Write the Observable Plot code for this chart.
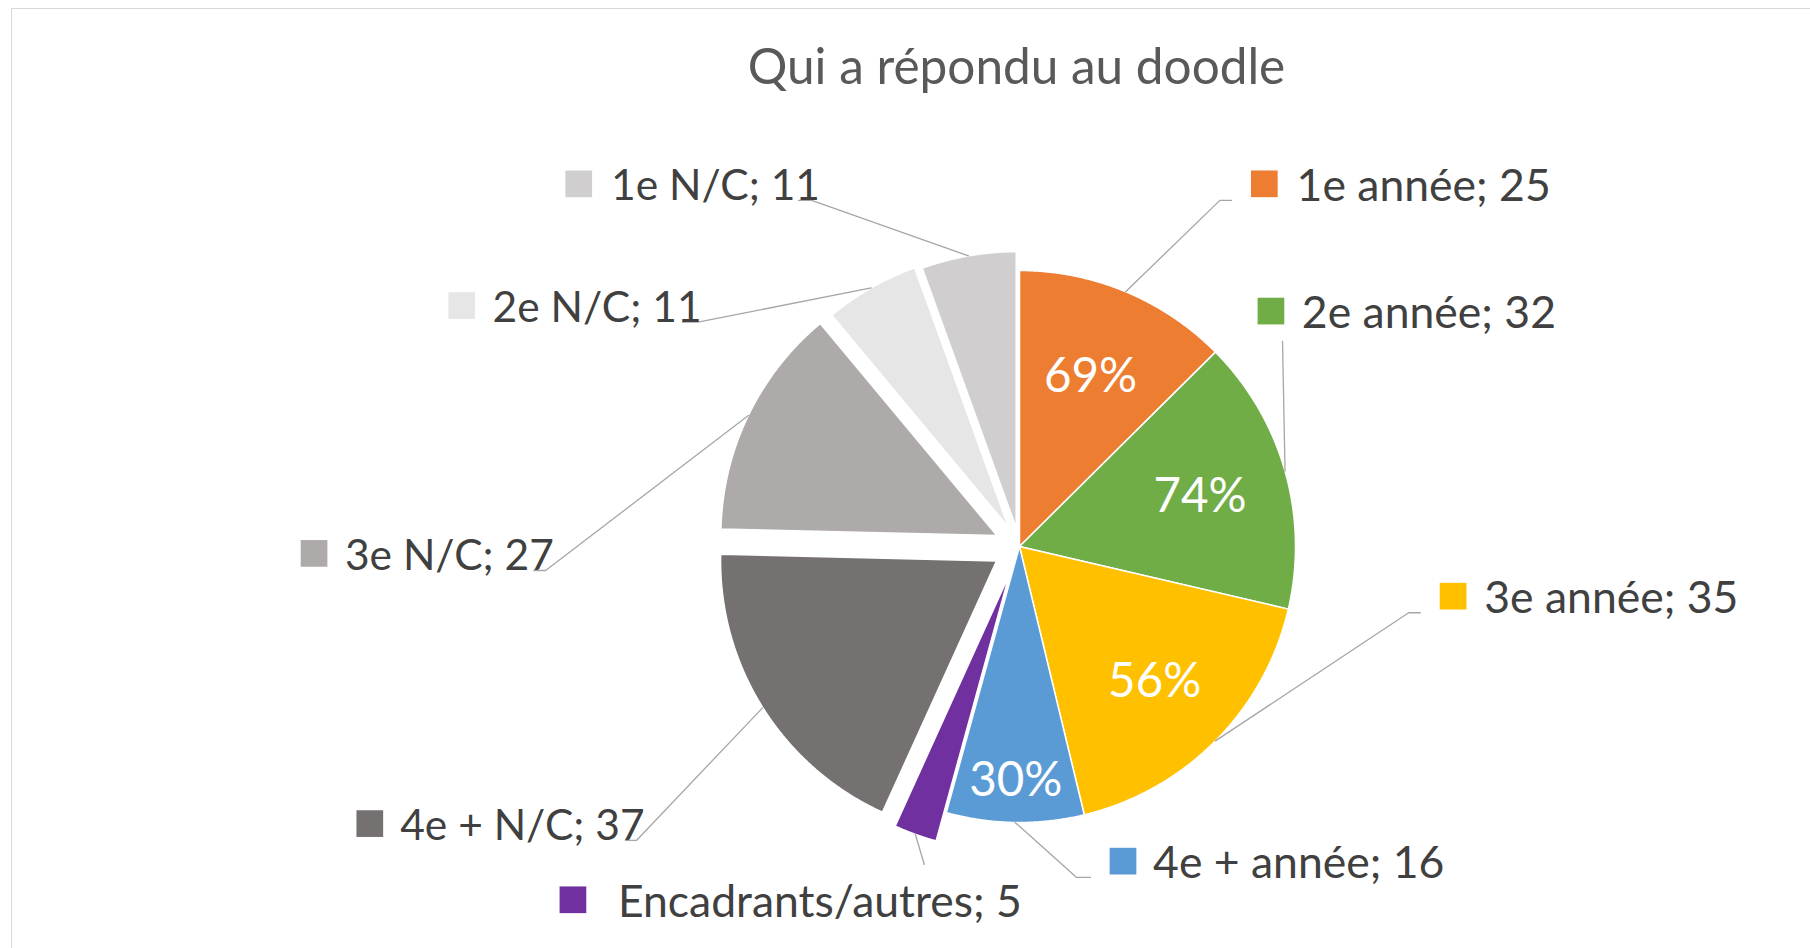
<!DOCTYPE html>
<html><head><meta charset="utf-8">
<script src="https://cdn.jsdelivr.net/npm/d3@7"></script>
<script src="https://cdn.jsdelivr.net/npm/@observablehq/plot@0.6"></script>
<style>
html,body{margin:0;padding:0;background:#fff;overflow:hidden}
#wrap{position:relative;width:1810px;height:948px;overflow:hidden}
#border{position:absolute;left:11px;top:8px;width:1820px;height:960px;border:1.5px solid #d9d9d9;pointer-events:none}
</style></head><body>
<div id="wrap"><div id="chart"></div><div id="border"></div></div>
<script>
// ---- data ----
const title = "Qui a répondu au doodle";
const categories = ["1e année","2e année","3e année","4e + année","Encadrants/autres","4e + N/C","3e N/C","2e N/C","1e N/C"];
const values = [25, 32, 35, 16, 5, 37, 27, 11, 11];
const pctLabels = ["69%","74%","56%","30%","","","","",""];
const colors = ["#ED7D31","#70AD47","#FFC000","#5B9BD5","#7030A0","#767171","#AEAAAA","#E7E6E6","#D0CECE"];

// ---- layout (pie radius = 1 unit, pie centre = 0,0) ----
const explode = [0, 0, 0, 0, 0.109, 0.098, 0.091, 0.08, 0.069];
const pctRadius = [0.67, 0.68, 0.69, 0.845, 0, 0, 0, 0, 0];
const labelSquare = [[0.887,1.314],[0.911,0.853],[1.571,-0.180],[0.375,-1.140],[-1.618,-1.280],[-2.354,-1.004],[-2.556,-0.025],[-2.021,0.873],[-1.597,1.314]];
const labelTextX = [1.004, 1.023, 1.684, 0.484, -1.455, -2.244, -2.444, -1.909, -1.480];
const labelSize = [44.5, 44.5, 44.5, 44.5, 44.5, 42.5, 42.5, 42.5, 42.5];
const leaderBends = [
  [[0.726,1.254],[0.768,1.254]],
  [[0.953,0.743]],
  [[1.410,-0.240],[1.452,-0.240]],
  [[0.207,-1.199],[0.257,-1.199]],
  [[-0.345,-1.152]],
  [[-1.388,-1.065],[-1.428,-1.065]],
  [[-1.717,-0.087],[-1.760,-0.087]],
  [[-1.165,0.813],[-1.222,0.813]],
  [[-0.753,1.254],[-0.801,1.254]]
];

const W = 1810, H = 948, CX = 1019, CY = 546, R = 276;
const total = d3.sum(values);
let cum = 0;
const slices = categories.map((c, i) => {
  const a0 = cum / total * 2 * Math.PI; cum += values[i];
  const a1 = cum / total * 2 * Math.PI;
  const mid = (a0 + a1) / 2;
  return {c, i, v: values[i], a0, a1, mid, ox: explode[i] * Math.sin(mid), oy: explode[i] * Math.cos(mid)};
});

const slicePts = [];
for (const s of slices) {
  slicePts.push({c: s.c, x: s.ox, y: s.oy});
  const n = Math.max(4, Math.ceil((s.a1 - s.a0) / (Math.PI / 720)));
  for (let j = 0; j <= n; j++) {
    const t = s.a0 + (s.a1 - s.a0) * j / n;
    slicePts.push({c: s.c, x: s.ox + Math.sin(t), y: s.oy + Math.cos(t)});
  }
}
const leaderPts = [];
for (const s of slices) {
  leaderPts.push({c: s.c, x: s.ox + Math.sin(s.mid), y: s.oy + Math.cos(s.mid)});
  for (const [x, y] of leaderBends[s.i]) leaderPts.push({c: s.c, x, y});
}
const pcts = slices.filter(s => pctLabels[s.i]).map(s => ({
  t: pctLabels[s.i], x: s.ox + pctRadius[s.i] * Math.sin(s.mid), y: s.oy + pctRadius[s.i] * Math.cos(s.mid)
}));
const labels = slices.map(s => ({c: s.c, t: `${s.c}; ${s.v}`, sx: labelSquare[s.i][0], sy: labelSquare[s.i][1], tx: labelTextX[s.i], fs: labelSize[s.i]}));

const font = "Lato, 'Open Sans', sans-serif";
const labelText = size => Plot.text(labels.filter(d => d.fs === size), {
  x: "tx", y: "sy", text: "t", fill: "#404040", fontSize: size, textAnchor: "start", lineAnchor: "middle", dy: 3, fontFamily: font
});
const chart = Plot.plot({
  width: W, height: H, margin: 0,
  style: {background: "transparent", fontFamily: font},
  x: {domain: [-CX / R, (W - CX) / R], axis: null},
  y: {domain: [(CY - H) / R, CY / R], axis: null},
  color: {domain: categories, range: colors},
  marks: [
    Plot.line(slicePts, {x: "x", y: "y", z: "c", fill: "c", stroke: "white", strokeWidth: 1.5, curve: "linear-closed"}),
    Plot.line(leaderPts, {x: "x", y: "y", z: "c", stroke: "#a6a6a6", strokeWidth: 1.3}),
    Plot.text(pcts, {x: "x", y: "y", text: "t", fill: "white", fontSize: 47.5, textAnchor: "middle", lineAnchor: "middle", dy: 1, fontFamily: font}),
    Plot.dot(labels, {x: "sx", y: "sy", fill: "c", symbol: "square", r: 15.07, stroke: null}),
    ...Array.from(new Set(labelSize), labelText),
    Plot.text([title], {x: 0, frameAnchor: "top", text: d => d, fill: "#595959", fontSize: 49.5, textAnchor: "middle", lineAnchor: "top", dy: 48, dx: -3, fontFamily: font})
  ]
});
document.getElementById("chart").appendChild(chart);
</script>
</body></html>
